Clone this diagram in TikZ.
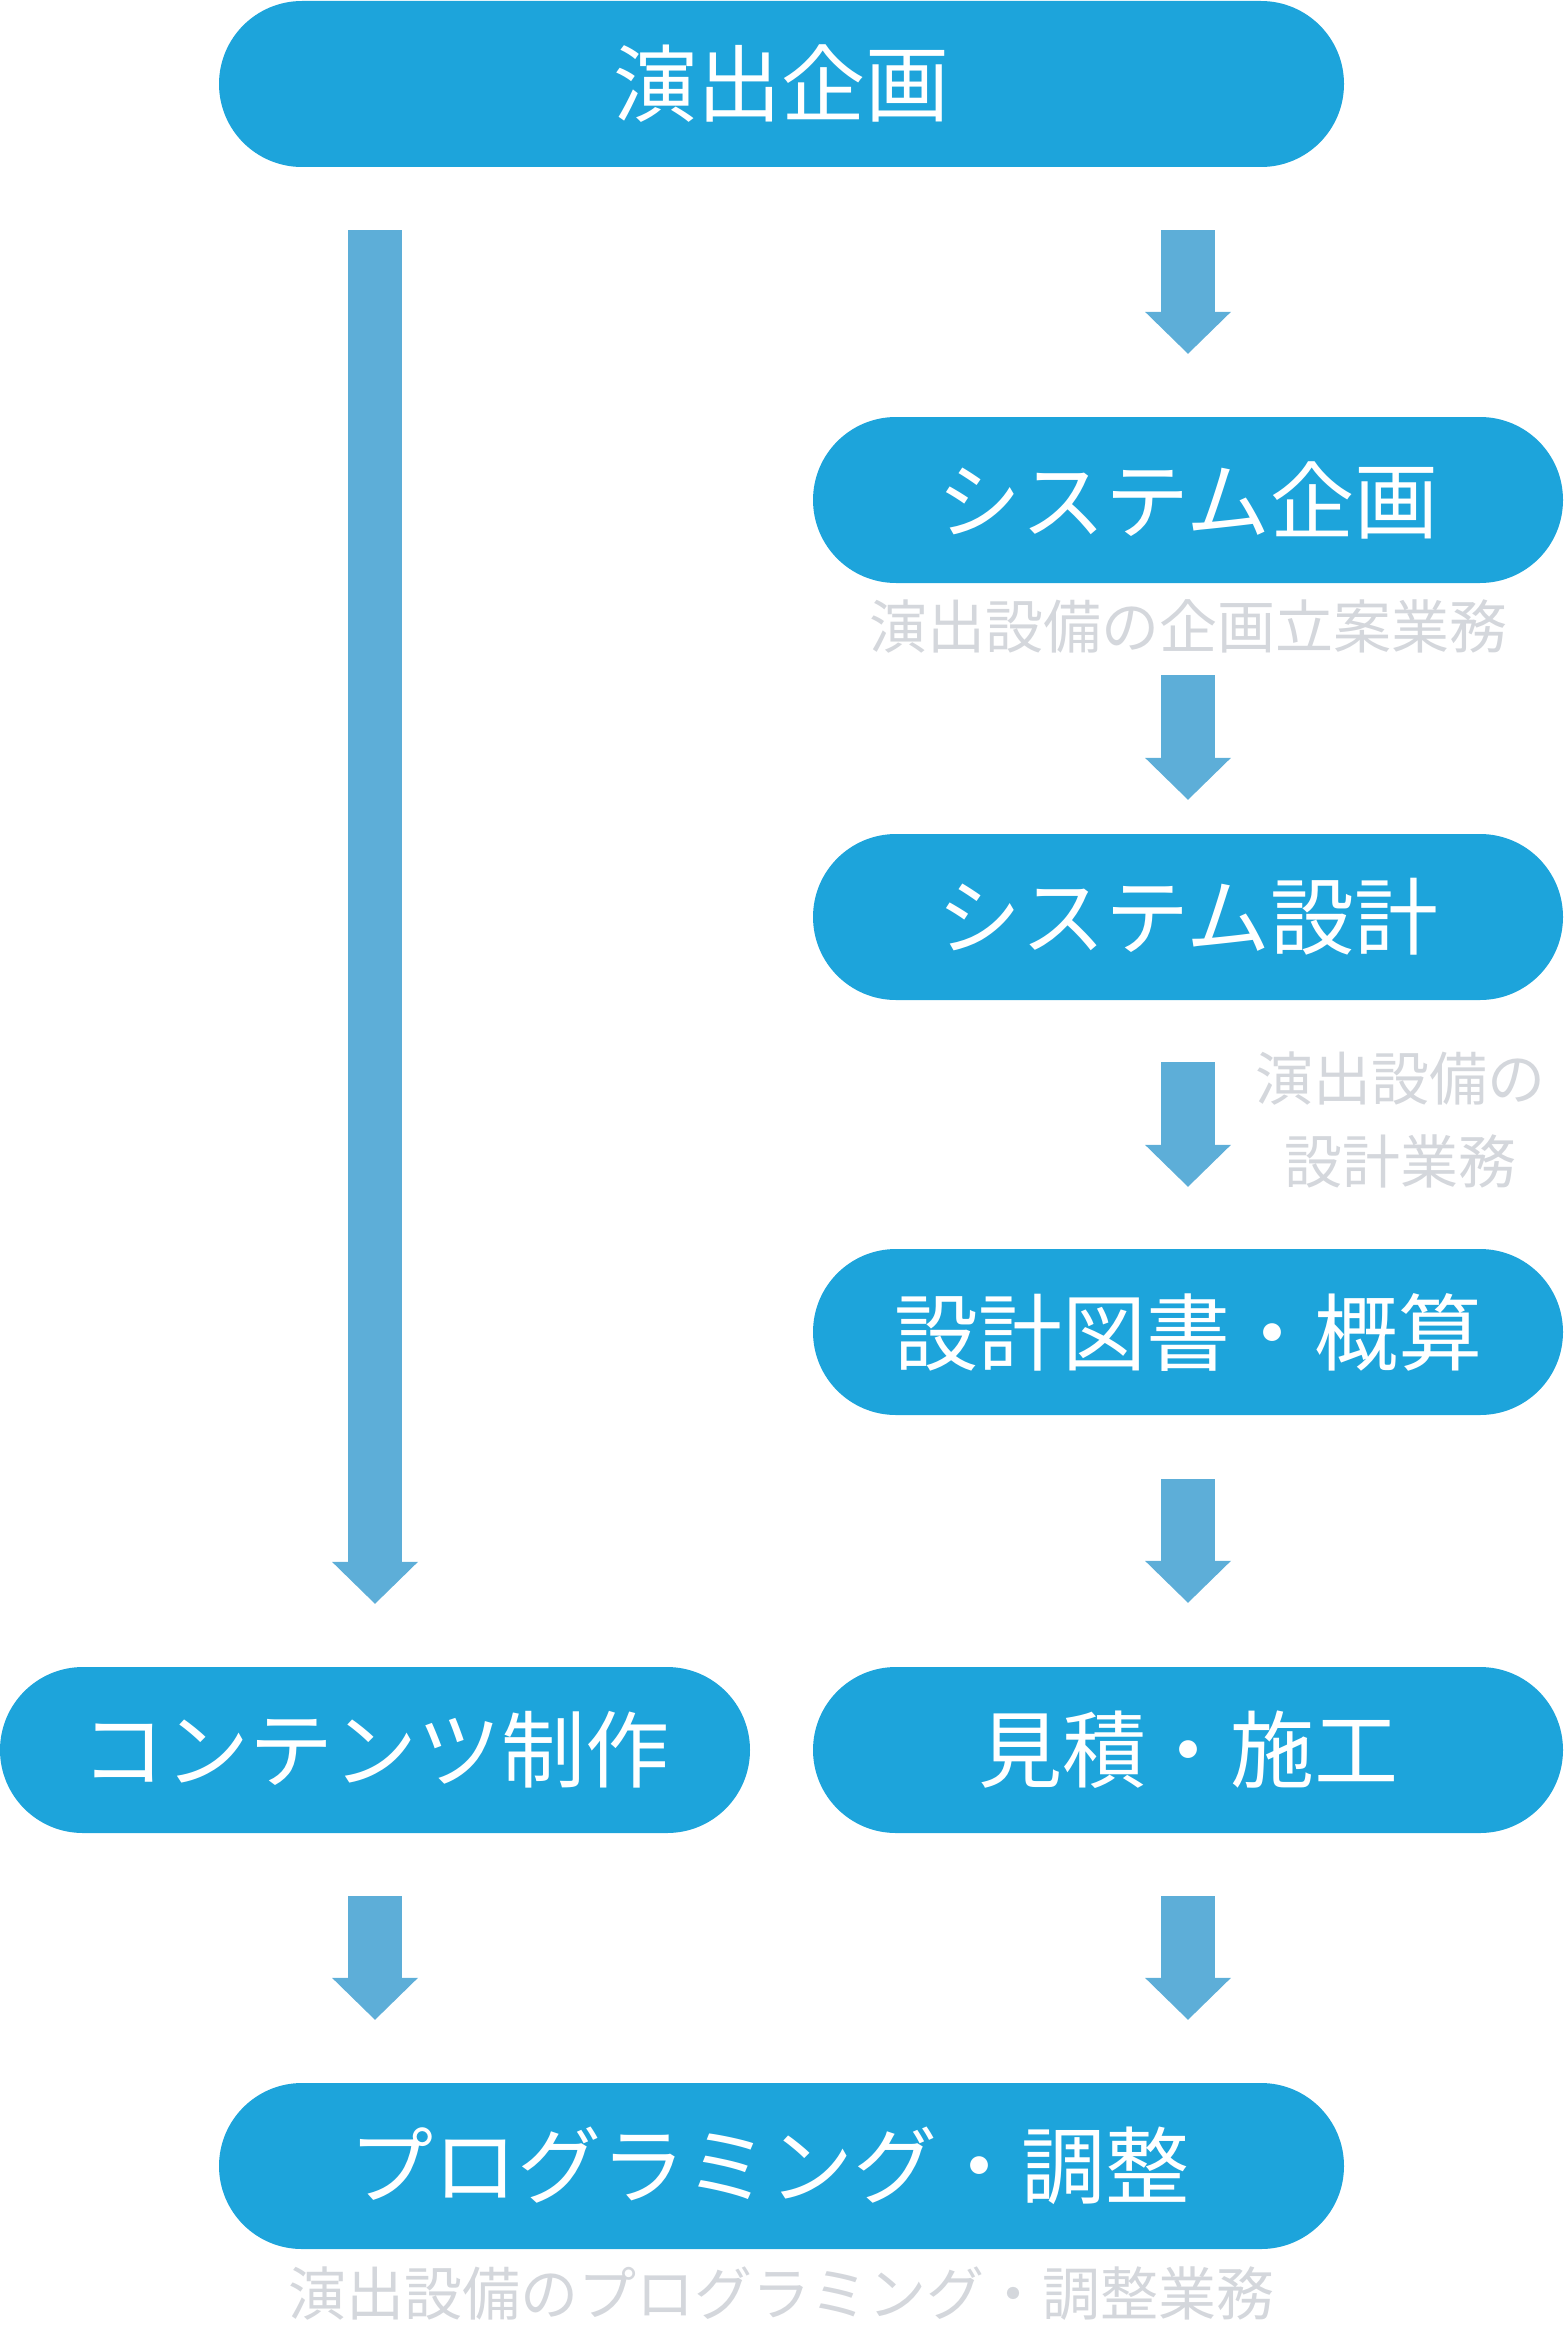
\documentclass[tikz,border=0pt]{standalone}
\usepackage{fontspec}
\setmainfont{Noto Sans CJK JP}
\usetikzlibrary{positioning,arrows.meta}

\definecolor{stageblue}{HTML}{1DA4DB}
\definecolor{flowblue}{HTML}{5DAED8}
\definecolor{notegray}{HTML}{D4D7DC}

\tikzset{
  stage/.style={fill=stageblue, text=white, rounded corners=83pt,
    minimum height=166pt, inner sep=0pt,
    font=\fontsize{84pt}{90pt}\selectfont},
  widestage/.style={stage, minimum width=1125pt},
  narrowstage/.style={stage, minimum width=750pt},
  note/.style={text=notegray, inner sep=0pt, align=center,
    font=\fontsize{58pt}{83pt}\selectfont},
  flow/.style={draw=flowblue, line width=54pt,
    -{Triangle[width=86pt, length=42pt, line width=0pt]},
    shorten <=63pt, shorten >=63pt},
}

\begin{document}
\begin{tikzpicture}[x=1pt, y=-1pt]
  % Canvas, one unit per pixel
  \useasboundingbox (0,0) rectangle (1563,2344);

  % Column centres
  \pgfmathsetmacro{\colL}{375}
  \pgfmathsetmacro{\colM}{781.5}
  \pgfmathsetmacro{\colR}{1188}

  % Stages
  \node[widestage]   (plan)    at (\colM, 84)   {演出企画};
  \node[narrowstage] (sysplan) at (\colR, 500)  {システム企画};
  \node[narrowstage] (sysdes)  at (\colR, 917)  {システム設計};
  \node[narrowstage] (drawing) at (\colR, 1332) {設計図書・概算};
  \node[narrowstage] (content) at (\colL, 1750) {コンテンツ制作};
  \node[narrowstage] (build)   at (\colR, 1750) {見積・施工};
  \node[widestage]   (prog)    at (\colM, 2166) {プログラミング・調整\hspace*{24pt}};

  % Notes
  \node[note, below=16pt of sysplan] (sysplannote) {演出設備の企画立案業務};
  \node[note] (sysdesnote) at (1400, 1120) {演出設備の\\設計業務};
  \node[note, below=17pt of prog] (prognote) {演出設備のプログラミング・調整業務};

  % Arrows
  \draw[flow] (plan.south -| content) -- (content.north);
  \draw[flow] (plan.south -| sysplan) -- (sysplan.north);
  \draw[flow, shorten <=92pt, shorten >=34pt] (sysplan.south) -- (sysdes.north);
  \draw[flow, shorten <=62pt, shorten >=62pt] (sysdes.south) -- (drawing.north);
  \draw[flow, shorten <=64pt, shorten >=64pt] (drawing.south) -- (build.north);
  \draw[flow] (content.south) -- (content.south |- prog.north);
  \draw[flow] (build.south) -- (build.south |- prog.north);
\end{tikzpicture}
\end{document}
